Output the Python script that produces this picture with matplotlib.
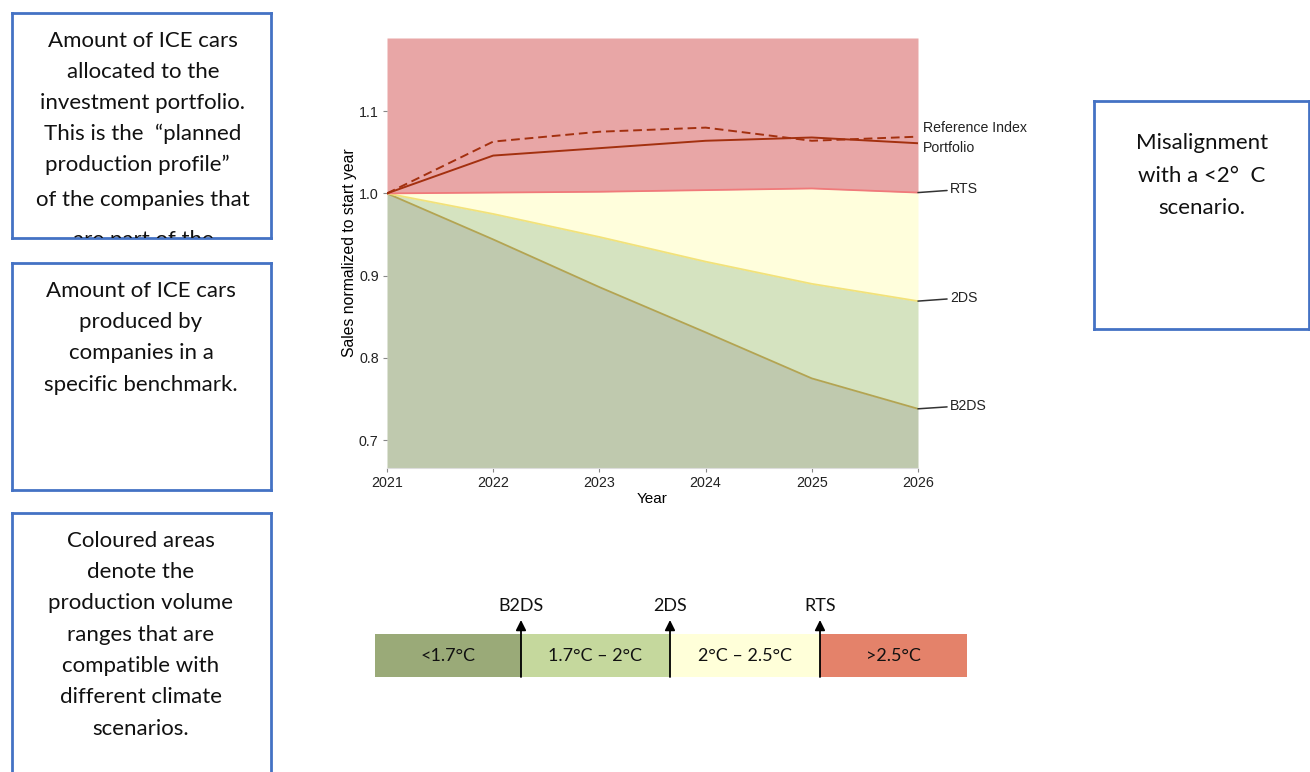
import matplotlib
matplotlib.use("Agg")
import matplotlib.pyplot as plt
from matplotlib.patches import Rectangle

plt.rcParams['font.family'] = ['Liberation Sans', 'DejaVu Sans']

years = [2021, 2022, 2023, 2024, 2025, 2026]
portfolio = [1.000, 1.046, 1.055, 1.064, 1.068, 1.061]
reference_index = [1.000, 1.063, 1.075, 1.080, 1.064, 1.069]
rts = [1.000, 1.001, 1.002, 1.004, 1.006, 1.001]
two_ds = [1.000, 0.975, 0.947, 0.917, 0.890, 0.869]
b2ds = [1.000, 0.944, 0.886, 0.831, 0.775, 0.738]
y_ticks = [0.7, 0.8, 0.9, 1.0, 1.1]

scale_segments = ["<1.7°C", "1.7°C – 2°C", "2°C – 2.5°C", ">2.5°C"]
scale_markers = ["B2DS", "2DS", "RTS"]

box_texts = [
    ["Amount of ICE cars", "allocated to the", "investment portfolio.",
     "This is the  \u201cplanned", "production profile\u201d  ", "of the companies that",
     "are part of the", "portfolio."],
    ["Amount of ICE cars", "produced by", "companies in a", "specific benchmark."],
    ["Coloured areas", "denote the", "production volume", "ranges that are",
     "compatible with", "different climate", "scenarios."],
    ["Misalignment", "with a <2\u00b0  C", "scenario."],
]

W, H = 1310, 772
fig = plt.figure(figsize=(W / 100, H / 100), dpi=100)


def fax(x0, y0, x1, y1):
    return fig.add_axes([x0 / W, 1 - y1 / H, (x1 - x0) / W, (y1 - y0) / H])


# ---- main chart ----
ax = fax(387, 38, 918, 468)
ymin, ymax = 0.666, 1.189
ax.set_xlim(years[0], years[-1])
ax.set_ylim(ymin, ymax)
ax.fill_between(years, ymin, b2ds, color="#BFC9AE", lw=0)
ax.fill_between(years, b2ds, two_ds, color="#D5E3C0", lw=0)
ax.fill_between(years, two_ds, rts, color="#FFFEDC", lw=0)
ax.fill_between(years, rts, ymax, color="#E8A6A6", lw=0)
ax.plot(years, b2ds, color="#B3A452", lw=1.3)
ax.plot(years, two_ds, color="#F2E27A", lw=1.3)
ax.plot(years, rts, color="#F07A7A", lw=1.3)
ax.plot(years, portfolio, color="#A3300F", lw=1.4)
ax.plot(years, reference_index, color="#A3300F", lw=1.4, ls=(0, (4.5, 2.5)))

for s in ["top", "right", "left"]:
    ax.spines[s].set_visible(False)
ax.spines["bottom"].set_color("#DDDDDD")
ax.set_yticks(y_ticks)
ax.set_yticklabels([f"{v:.1f}" for v in y_ticks])
ax.set_xticks(years)
ax.tick_params(axis="both", length=3, width=0.8, color="#888888",
               labelsize=10.3, labelcolor="#222222", pad=3)
ax.set_ylabel("Sales normalized to start year", fontsize=11.3, labelpad=1)
ax.set_xlabel("Year", fontsize=11, labelpad=1)

# end labels
ax.text(1.009, reference_index[-1] + 0.011, "Reference Index", transform=ax.get_yaxis_transform(),
        fontsize=10.2, va="center", ha="left", color="#222222")
ax.text(1.009, portfolio[-1] - 0.006, "Portfolio", transform=ax.get_yaxis_transform(),
        fontsize=10.2, va="center", ha="left", color="#222222")
for lab, arr in zip(["RTS", "2DS", "B2DS"], [rts, two_ds, b2ds]):
    yv = arr[-1]
    ax.annotate(lab, xy=(years[-1], yv), xytext=(1.06, yv + 0.004),
                textcoords=ax.get_yaxis_transform(), fontsize=10.2, va="center",
                ha="left", color="#222222",
                arrowprops=dict(arrowstyle="-", color="#333333", lw=1.1,
                                shrinkA=0, shrinkB=0),
                annotation_clip=False)

# ---- text boxes ----
box_pos = [(12, 13, 271, 238), (12, 263, 271, 490), (12, 513, 271, 800), (1094, 101, 1309, 329)]
box_line_y = [
    [41, 72, 103, 134, 165, 200, 240, 271],
    [291, 322, 353, 385],
    [541, 572, 603, 635, 666, 697, 729],
    [143, 176, 208],
]
box_cx = [143, 141, 141, 1202]
for (x0, y0, x1, y1), lines, ys, cx in zip(box_pos, box_texts, box_line_y, box_cx):
    bx = fax(x0, y0, x1, y1)
    bx.set_xlim(x0, x1)
    bx.set_ylim(y1, y0)
    bx.set_xticks([])
    bx.set_yticks([])
    for s in bx.spines.values():
        s.set_color("#4472C4")
        s.set_linewidth(2)
    for ln, yy in zip(lines, ys):
        bx.text(cx, yy, ln, ha="center", va="center", fontsize=16,
                family=["Lato", "DejaVu Sans"], color="#111111", clip_on=True)

# ---- scale bar ----
sx = fax(360, 590, 980, 690)
sx.set_xlim(360, 980)
sx.set_ylim(690, 590)
sx.axis("off")
edges = [375, 521, 670, 820, 967]
seg_colors = ["#9AAA78", "#C5D89D", "#FFFFD9", "#E4826A"]
for i, (lab, c) in enumerate(zip(scale_segments, seg_colors)):
    sx.add_patch(Rectangle((edges[i], 634), edges[i + 1] - edges[i], 43, color=c, lw=0))
    sx.text((edges[i] + edges[i + 1]) / 2, 656, lab, ha="center", va="center",
            fontsize=13, family=["Lato", "DejaVu Sans"], color="#111111")
for e, lab in zip(edges[1:4], scale_markers):
    sx.annotate("", xy=(e, 620), xytext=(e, 677),
                arrowprops=dict(arrowstyle="-|>,head_length=0.6,head_width=0.3",
                                color="black", lw=1.3, shrinkA=0, shrinkB=0))
    sx.text(e, 606, lab, ha="center", va="center", fontsize=13,
            family=["Lato", "DejaVu Sans"], color="#111111")

fig.savefig("out.png", dpi=100)
